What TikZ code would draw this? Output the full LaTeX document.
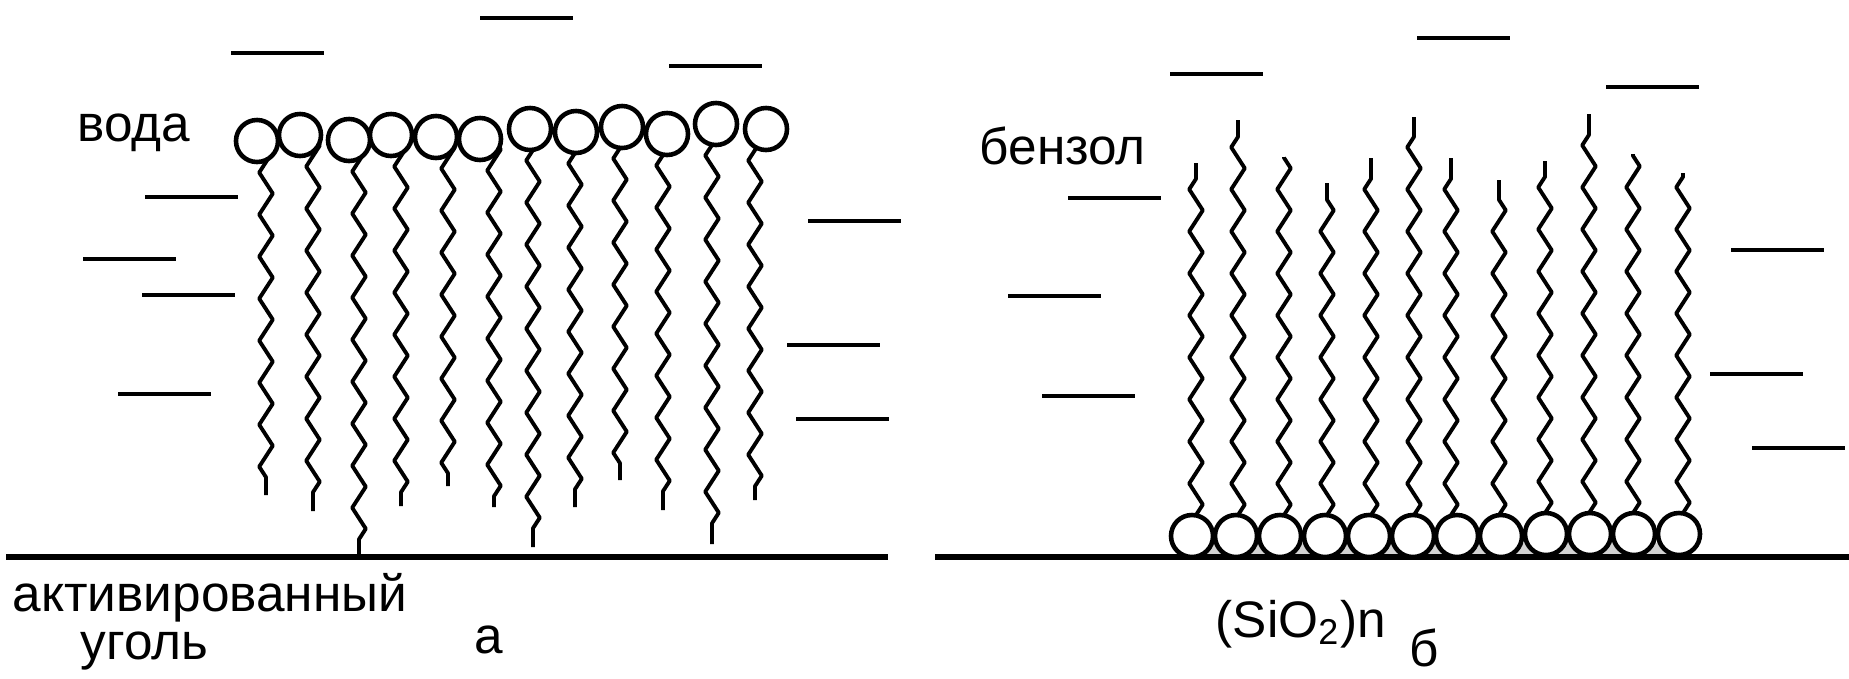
\documentclass[tikz,border=0pt]{standalone}
\usepackage{fontspec}
\setmainfont{Liberation Sans}
\usetikzlibrary{decorations.pathmorphing,backgrounds}

\begin{document}
\begin{tikzpicture}[x=0.01cm,y=-0.01cm,
  head/.style={circle,draw,fill=white,line width=1.3pt,inner sep=0pt,minimum size=0.42cm},
  tail/.style={line width=1.1pt,line join=round,decorate,decoration={zigzag,segment length=0.42cm,amplitude=0.068cm}},
  solvent/.style={line width=1.2pt},
  surface/.style={line width=1.5pt},
  lbl/.style={font=\fontsize{14.6}{17}\selectfont,inner sep=0pt,anchor=base west}]
\useasboundingbox (0,0) rectangle (1849,678);

% (a) heads in the water, tails down to the carbon
\draw[surface] (6,557) -- (888,557);
\foreach \cx/\cy/\tx/\ty [count=\i] in {257/141/266/495, 300/135/313/511, 349/140/359/557,
    391/135/401/506, 436/137/448/486, 480/139/494/507, 530/129/533/547, 576/132/575/507,
    622/127/620/480, 667/134/663/510, 716/124/712/544, 766/129/755/500}{
  \node[head] (a\i) at (\cx,\cy) {};
  \coordinate (ta\i) at (\tx,\ty);
  \begin{scope}[on background layer]
    \draw[tail] (ta\i |- a\i.center) -- (ta\i);
  \end{scope}
}
\foreach \x/\y in {480/18, 231/53, 669/66, 145/197, 83/259, 142/295, 118/394,
    808/221, 787/345, 796/419}
  \draw[solvent] (\x,\y) -- ++(93,0);

\node[lbl] (water) at (77,141) {вода};
\node[lbl] (carbon) at (12,611) {активированный};
\node[lbl] (carbonb) at (80,659) {уголь};
\node[lbl] (capa) at (474,653) {а};

% (b) heads on the silica, tails up into the benzene
\draw[surface] (935,557) -- (1849,557);
\begin{scope}[on background layer]
  \fill[gray!35] (1192,543) rectangle (1679,557);
\end{scope}
\foreach \cx/\cy/\tx/\ty [count=\i] in {1192/536/1196/163, 1236/536/1238/120, 1280/536/1284/157,
    1325/536/1327/183, 1369/536/1371/158, 1413/536/1414/117, 1457/536/1451/158, 1501/536/1499/180,
    1546/534/1545/161, 1590/534/1589/114, 1634/534/1633/154, 1679/534/1683/173}{
  \node[head] (b\i) at (\cx,\cy) {};
  \coordinate (tb\i) at (\tx,\ty);
  \begin{scope}[on background layer]
    \draw[tail] (tb\i |- b\i.center) -- (tb\i);
  \end{scope}
}
\foreach \x/\y in {1417/38, 1170/74, 1606/87, 1068/198, 1008/296, 1042/396,
    1731/250, 1710/374, 1752/448}
  \draw[solvent] (\x,\y) -- ++(93,0);

\node[lbl] (benzene) at (979,164) {бензол};
\node[lbl] (silica) at (1215,637) {(SiO\textsubscript{2})n};
\node[lbl] (capb) at (1409,666) {б};
\end{tikzpicture}
\end{document}
